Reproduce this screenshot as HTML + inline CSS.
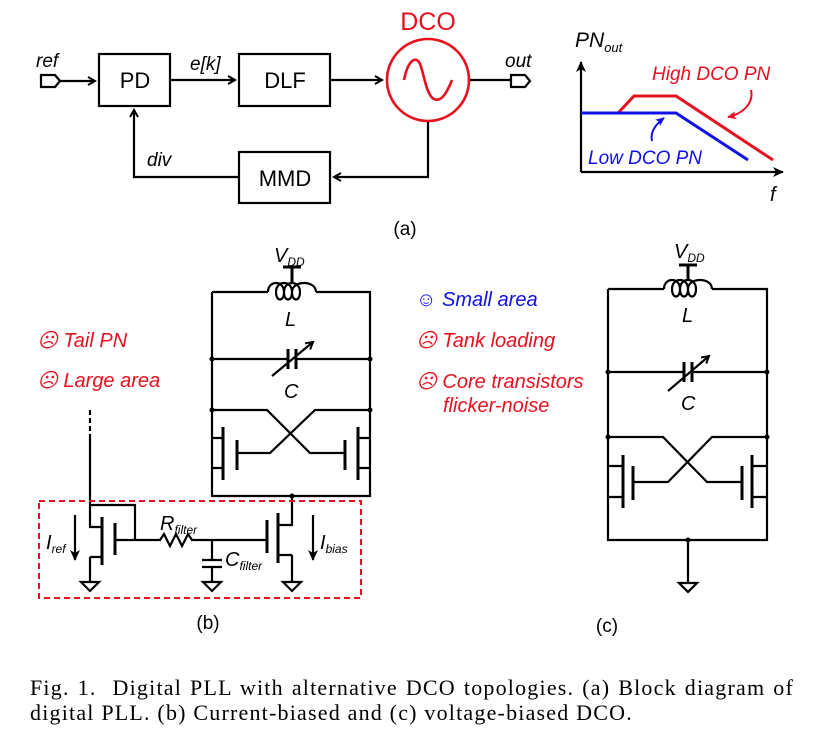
<!DOCTYPE html>
<html><head><style>
body{margin:0;background:#fff;}
svg{display:block;font-family:"Liberation Sans",sans-serif;}
.cap{position:absolute;left:30px;width:764px;font-family:"Liberation Serif",serif;font-size:22px;letter-spacing:1.2px;line-height:25px;color:#000;white-space:nowrap;}
.l1{top:675px;text-align:justify;text-align-last:justify;}
.l2{top:700px;}
</style></head><body>
<svg width="825" height="738" viewBox="0 0 825 738">
<defs>
<marker id="ah" markerWidth="10" markerHeight="10" refX="8" refY="5" orient="auto" markerUnits="userSpaceOnUse"><path d="M1,1 L8,5 L1,9" fill="none" stroke="#000" stroke-width="2"/></marker>
<marker id="ahf" markerWidth="12" markerHeight="12" refX="10" refY="6" orient="auto" markerUnits="userSpaceOnUse"><path d="M0,1 L11,6 L0,11 L3,6Z" fill="#000"/></marker>
<marker id="ahr" markerWidth="10" markerHeight="10" refX="8" refY="5" orient="auto" markerUnits="userSpaceOnUse"><path d="M0,1 L9,5 L0,9 L2,5Z" fill="#e8101e"/></marker>
<marker id="ahb" markerWidth="10" markerHeight="10" refX="8" refY="5" orient="auto" markerUnits="userSpaceOnUse"><path d="M0,1 L9,5 L0,9 L2,5Z" fill="#1010e8"/></marker>
</defs>
<g stroke="#000" stroke-width="2.2" fill="none">
<path d="M41,75 H55 L60,81 L55,87 H41 Z"/>
<path d="M60,81 H95" marker-end="url(#ah)"/>
<rect x="99" y="54" width="71" height="52"/>
<rect x="239" y="54" width="91" height="52"/>
<rect x="239" y="152" width="91" height="51"/>
<path d="M170,80 H235" marker-end="url(#ah)"/>
<path d="M330,80 H382" marker-end="url(#ah)"/>
<path d="M470,80 H511"/>
<path d="M511,75 H525 L530,81 L525,87 H511 Z"/>
<path d="M428,122 V177 H334" marker-end="url(#ah)"/>
<path d="M239,177 H134 V110" marker-end="url(#ah)"/>
</g>
<circle cx="428" cy="80" r="41" fill="none" stroke="#e8101e" stroke-width="2.6"/>
<path d="M404,80 C408,60 416,55 420,64 C424,73 426,95 434,99 C442,103 448,90 452,80" fill="none" stroke="#e8101e" stroke-width="2.6"/>
<text x="428" y="30" font-size="25" fill="#e8101e" text-anchor="middle">DCO</text>
<g font-size="22" text-anchor="middle"><text x="135" y="88">PD</text><text x="285" y="88">DLF</text><text x="285" y="186">MMD</text></g>
<g font-size="19" font-style="italic"><text x="36" y="67">ref</text><text x="190" y="70">e[k]</text><text x="505" y="67">out</text><text x="147" y="166">div</text></g>
<text x="405" y="235" font-size="19" text-anchor="middle">(a)</text>
<g stroke="#000" stroke-width="2.2" fill="none">
<path d="M581,172 V62" marker-end="url(#ahf)"/>
<path d="M581,172 H783" marker-end="url(#ahf)"/>
</g>
<text x="575" y="47" font-size="21" font-style="italic">PN<tspan font-size="13" dy="5">out</tspan></text>
<text x="770" y="201" font-size="20" font-style="italic">f</text>
<path d="M581,113 H618 L634,96 H676 L773,160" fill="none" stroke="#e8101e" stroke-width="3"/>
<path d="M581,113 H676 L748,160" fill="none" stroke="#1010e8" stroke-width="3"/>
<text x="652" y="80" font-size="19" font-style="italic" fill="#e8101e">High DCO PN</text>
<text x="588" y="164" font-size="19" font-style="italic" fill="#1010e8">Low DCO PN</text>
<path d="M751,90 C754,104 742,114 728,117" fill="none" stroke="#e8101e" stroke-width="2" marker-end="url(#ahr)"/>
<path d="M652,141 C650,132 656,124 664,118" fill="none" stroke="#1010e8" stroke-width="2" marker-end="url(#ahb)"/>

<g stroke="#000" stroke-width="2.2" fill="none">
<path d="M212,292 H268 M316,292 H370 V496 H212 V292"/>
<path d="M268,292 C268,280 284,280 284,292 C284,302 276,302 276,292 C276,280 292,280 292,292 C292,302 284,302 284,292 C284,280 300,280 300,292 C300,302 292,302 292,292 C292,280 316,280 316,292"/>
<path d="M292,283 V267 M283,267 H301" stroke-width="3"/>
<path d="M212,359 H288 M296,359 H370"/>
<path d="M288,349 V369 M296,349 V369" stroke-width="3"/>
<path d="M272,376 L313,342" marker-end="url(#ah)"/>
<path d="M212,410 H267 L310,453 H345 M370,410 H315 L270,453 H237"/>
<path d="M212,438 H223 M212,468 H223 M370,438 H358 M370,468 H358"/>
<path d="M223,427 V480 M237,440 V470 M358,427 V480 M345,440 V470" stroke-width="3"/>
<path d="M292,496 V525 H278 M292,555 H278 M292,555 V582"/>
<path d="M278,513 V563 M267,520 V553" stroke-width="3"/>
<path d="M90,438 V527 H102 M90,505 H135 V540 M115,540 H160 L164,534 L170,546 L176,534 L182,546 L188,534 L192,540 H267"/>
<path d="M90,557 H102 M90,557 V582"/>
<path d="M102,517 V565 M115,523 V555" stroke-width="3"/>
<path d="M212,540 V560 M212,567 V582 M202,560 H222 M202,567 H222"/>
<path d="M81,582 H99 L90,591 Z M203,582 H221 L212,591 Z M283,582 H301 L292,591 Z"/>
<path d="M75,515 V560" marker-end="url(#ahf)"/>
<path d="M313,515 V560" marker-end="url(#ahf)"/>
</g>
<path d="M90,410 V438" stroke="#000" stroke-width="2.2" stroke-dasharray="5,3"/>
<g fill="#000"><circle cx="212" cy="359" r="2.5"/><circle cx="370" cy="359" r="2.5"/><circle cx="212" cy="410" r="2.5"/><circle cx="370" cy="410" r="2.5"/><circle cx="292" cy="496" r="2.5"/></g>
<rect x="39" y="501" width="322" height="97" fill="none" stroke="#e8101e" stroke-width="2" stroke-dasharray="6,4"/>
<g font-style="italic" font-size="20">
<text x="274" y="262">V<tspan font-size="12" dy="4">DD</tspan></text>
<text x="285" y="326">L</text><text x="284" y="398">C</text>
<text x="46" y="549">I<tspan font-size="12" dy="4">ref</tspan></text>
<text x="160" y="530">R<tspan font-size="12" dy="4">filter</tspan></text>
<text x="225" y="566">C<tspan font-size="12" dy="4">filter</tspan></text>
<text x="320" y="549">I<tspan font-size="12" dy="4">bias</tspan></text>
</g>
<g font-style="italic" font-size="20" fill="#e8101e">
<text x="37" y="347">☹ Tail PN</text>
<text x="37" y="387">☹ Large area</text>
<text x="416" y="347">☹ Tank loading</text>
<text x="416" y="388">☹ Core transistors</text>
<text x="443" y="412">flicker-noise</text>
</g>
<text x="416" y="306" font-style="italic" font-size="20" fill="#1010e8">☺ Small area</text>
<text x="208" y="629" font-size="19" text-anchor="middle">(b)</text>

<g stroke="#000" stroke-width="2.2" fill="none">
<path d="M608,289 H664 M712,289 H767 V540 H608 V289"/>
<path d="M664,289 C664,277 680,277 680,289 C680,299 672,299 672,289 C672,277 688,277 688,289 C688,299 680,299 680,289 C680,277 696,277 696,289 C696,299 688,299 688,289 C688,277 712,277 712,289"/>
<path d="M688,280 V265 M679,265 H697" stroke-width="3"/>
<path d="M608,372 H684 M692,372 H767"/>
<path d="M684,362 V382 M692,362 V382" stroke-width="3"/>
<path d="M668,391 L709,356" marker-end="url(#ah)"/>
<path d="M608,437 H663 L707,482 H742 M767,437 H712 L668,482 H633"/>
<path d="M608,466 H623 M608,497 H623 M767,466 H752 M767,497 H752"/>
<path d="M623,455 V508 M633,466 V500 M752,455 V508 M742,466 V500" stroke-width="3"/>
<path d="M688,540 V583 M679,583 H697 L688,592 Z"/>
</g>
<g fill="#000"><circle cx="608" cy="372" r="2.5"/><circle cx="767" cy="372" r="2.5"/><circle cx="608" cy="437" r="2.5"/><circle cx="767" cy="437" r="2.5"/><circle cx="688" cy="540" r="2.5"/></g>
<g font-style="italic" font-size="20">
<text x="674" y="258">V<tspan font-size="12" dy="4">DD</tspan></text>
<text x="682" y="322">L</text><text x="681" y="410">C</text>
</g>
<text x="607" y="632" font-size="19" text-anchor="middle">(c)</text>
</svg>
<div class="cap l1">Fig. 1.&nbsp;&nbsp;Digital PLL with alternative DCO topologies. (a) Block diagram of</div>
<div class="cap l2">digital PLL. (b) Current-biased and (c) voltage-biased DCO.</div>
</body></html>
